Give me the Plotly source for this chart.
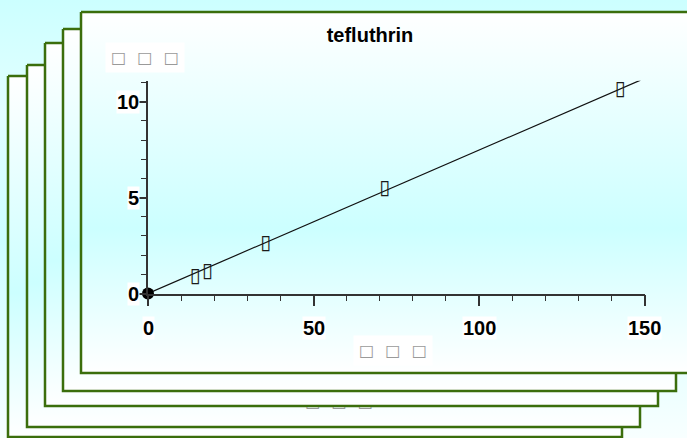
import plotly.graph_objects as go

W, H = 687, 438

# ---- data ----
conc = [14.25, 18.0, 35.6, 71.5, 142.7]          # x values of measured points
resp = [0.88, 1.10, 2.56, 5.45, 10.6]            # y values of measured points
origin_x = [0]
origin_y = [0]
fit_x = [0, 148.8]                               # regression line ends
fit_y = [0, 11.13]
x_tickvals = [0, 50, 100, 150]
x_ticktext = ["0", "50", "100", "150"]
y_tickvals = [0, 5, 10]
y_ticktext = ["0", "5", "10"]
title_text = "tefluthrin"
x_title = "□\u2002\u2009□\u2002\u2009□"
y_title = "□\u2002\u2009□\u2002\u2009□"
point_glyph = "▯"

# ---- decoration geometry (pixels) ----
pages = [  # back to front: left, top, right, bottom
    (8, 76, 622, 437),
    (27, 65, 640, 427),
    (45, 43, 658, 406),
    (63, 29, 676, 391),
    (81, 12, 705, 373),
]
GREEN = "#3b6e0c"
FONT = "Liberation Sans, Arial, sans-serif"
BOX_FONT = "DejaVu Sans"
BOX_SIZE = 16

fig = go.Figure()

# background of the slide
fig.add_trace(go.Scatter(
    x=[0, W, W, 0, 0], y=[0, 0, H, H, 0], mode="lines", fill="toself",
    line=dict(width=0),
    fillgradient=dict(type="vertical", start=0, stop=H,
                      colorscale=[[0, "#ccffff"], [0.25, "#e2ffff"], [0.55, "#ccffff"], [1, "#f8ffff"]]),
    hoverinfo="skip", showlegend=False, xaxis="x", yaxis="y"))

def add_page(p):
    l, t, r, b = p
    fig.add_trace(go.Scatter(
        x=[l, r, r, l, l], y=[t, t, b, b, t], mode="lines", fill="toself",
        line=dict(color=GREEN, width=2.5),
        fillgradient=dict(type="vertical", start=t, stop=b,
                          colorscale=[[0, "#ffffff"], [0.6, "#ccffff"], [1, "#ffffff"]]),
        hoverinfo="skip", showlegend=False, xaxis="x", yaxis="y"))

add_page(pages[0])
add_page(pages[1])
# axis title of a lower page, mostly hidden
fig.add_trace(go.Scatter(
    x=[339], y=[403], mode="text", text=[x_title],
    textfont=dict(family=BOX_FONT, size=BOX_SIZE, color="#9a9a9a"),
    hoverinfo="skip", showlegend=False, xaxis="x", yaxis="y"))
for p in pages[2:]:
    add_page(p)

# ---- chart on the top page ----
fig.add_trace(go.Scatter(
    x=fit_x, y=fit_y, mode="lines", line=dict(color="#111111", width=1.2),
    hoverinfo="skip", showlegend=False, xaxis="x2", yaxis="y2", cliponaxis=False))
fig.add_trace(go.Scatter(
    x=conc, y=resp, mode="text", text=[point_glyph] * len(conc),
    textfont=dict(family=BOX_FONT, size=20, color="#1a1a1a"),
    showlegend=False, xaxis="x2", yaxis="y2", cliponaxis=False))
fig.add_trace(go.Scatter(
    x=origin_x, y=origin_y, mode="markers",
    marker=dict(size=12, color="black"),
    showlegend=False, xaxis="x2", yaxis="y2", cliponaxis=False))

x0p, x1p = 148 / W, 644.5 / W
y0p, y1p = (H - 293.5) / H, (H - 80.7) / H

ann = []
for v, t in zip(x_tickvals, x_ticktext):
    ann.append(dict(x=v, xref="x2", y=1 - 328 / H, yref="paper", text=t, showarrow=False,
                    xanchor="center", yanchor="middle", bgcolor="white", borderpad=0,
                    font=dict(family=FONT, size=20, color="black", weight="bold")))
for v, t in zip(y_tickvals, y_ticktext):
    ann.append(dict(x=139.5 / W, xref="paper", y=v, yref="y2", text=t, showarrow=False,
                    xanchor="right", yanchor="middle", bgcolor="white", borderpad=0,
                    font=dict(family=FONT, size=20, color="black", weight="bold")))
ann.append(dict(x=144.5 / W, xref="paper", y=1 - 57.5 / H, yref="paper", text=y_title,
                showarrow=False, xanchor="center", yanchor="middle", bgcolor="white",
                borderpad=5, font=dict(family=BOX_FONT, size=BOX_SIZE, color="#9a9a9a")))
ann.append(dict(x=393 / W, xref="paper", y=1 - 350 / H, yref="paper", text=x_title,
                showarrow=False, xanchor="center", yanchor="middle", bgcolor="white",
                borderpad=5, font=dict(family=BOX_FONT, size=BOX_SIZE, color="#9a9a9a")))

fig.update_layout(
    width=W, height=H, margin=dict(l=0, r=0, t=0, b=0),
    paper_bgcolor="white", plot_bgcolor="rgba(0,0,0,0)",
    showlegend=False,
    title=dict(text=title_text, x=370 / W, y=1 - 35 / H, xanchor="center", yanchor="middle",
               xref="paper", yref="paper",
               font=dict(family=FONT, size=20, color="black", weight="bold")),
    xaxis=dict(range=[0, W], domain=[0, 1], visible=False, fixedrange=True),
    yaxis=dict(range=[H, 0], domain=[0, 1], visible=False, fixedrange=True),
    xaxis2=dict(range=[0, 150], domain=[x0p, x1p], anchor="y2",
                showline=True, linecolor="#333333", linewidth=1.5,
                ticks="outside", tickvals=x_tickvals, ticklen=11, tickwidth=1.5,
                tickcolor="#333333", showticklabels=False, showgrid=False, zeroline=False,
                minor=dict(dtick=10, ticks="outside", ticklen=6, tickwidth=1.2,
                           tickcolor="#333333", showgrid=False)),
    yaxis2=dict(range=[0, 11.1], domain=[y0p, y1p], anchor="x2",
                showline=True, linecolor="#333333", linewidth=1.5,
                ticks="outside", tickvals=y_tickvals, ticklen=7, tickwidth=1.5,
                tickcolor="#333333", showticklabels=False, showgrid=False, zeroline=False,
                minor=dict(dtick=1, ticks="outside", ticklen=5, tickwidth=1.2,
                           tickcolor="#333333", showgrid=False)),
    annotations=ann,
)

fig.write_html("out.html", config={"displayModeBar": False},
               post_script="document.body.style.margin='0px';")
